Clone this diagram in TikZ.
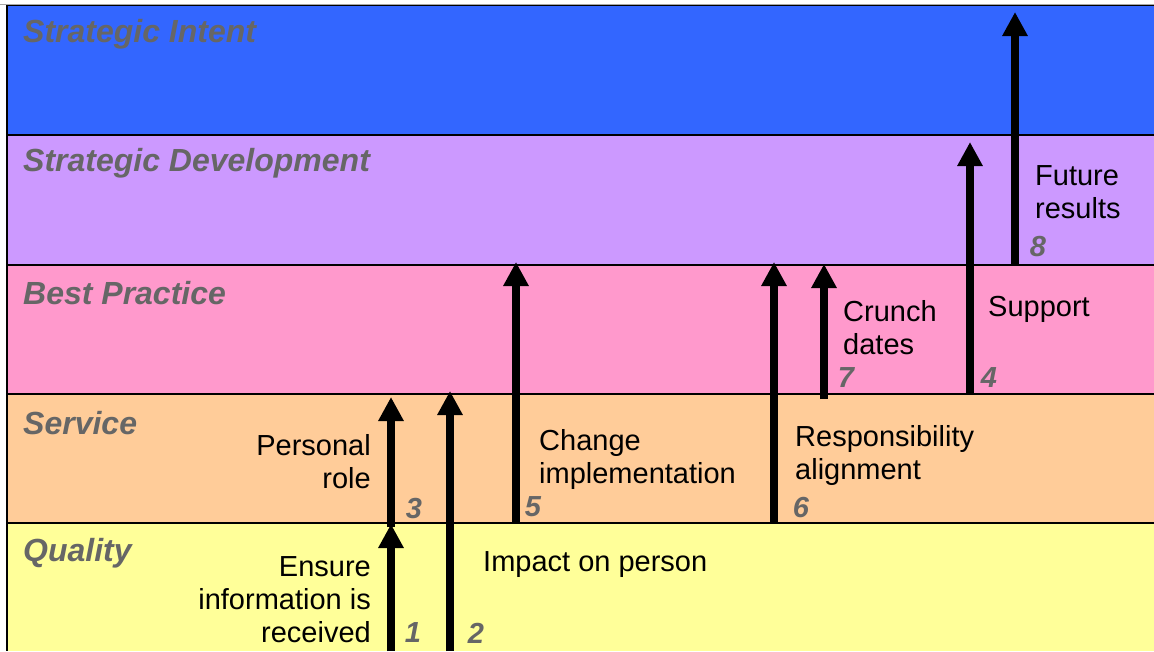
\documentclass[tikz,border=0pt]{standalone}
\usepackage{fontspec}
\setmainfont{Liberation Sans}
\usetikzlibrary{arrows.meta}
\definecolor{bandblue}{HTML}{3366FF}
\definecolor{bandpurple}{HTML}{CC99FF}
\definecolor{bandpink}{HTML}{FF99CC}
\definecolor{bandorange}{HTML}{FFCC99}
\definecolor{bandyellow}{HTML}{FFFF99}
\definecolor{titlegray}{HTML}{666666}
\tikzset{
  bandtitle/.style={anchor=west, inner sep=0pt, text=titlegray, font=\fontsize{32}{36}\selectfont\bfseries\itshape},
  lbl/.style={inner sep=0pt, font=\fontsize{29}{33}\selectfont},
  num/.style={inner sep=0pt, text=titlegray, font=\fontsize{29}{33}\selectfont\bfseries\itshape},
  uparrow/.style={line width=8pt, -{Triangle[width=24pt,length=24pt]}}
}
\begin{document}
\begin{tikzpicture}[x=1pt,y=-1pt]
\useasboundingbox (0,0) rectangle (1154,651);
\fill[white] (0,0) rectangle (1154,651);
% bands
\fill[bandblue] (7,5) rectangle (1154,135);
\fill[bandpurple] (7,135) rectangle (1154,265);
\fill[bandpink] (7,265) rectangle (1154,394);
\fill[bandorange] (7,394) rectangle (1154,523);
\fill[bandyellow] (7,523) rectangle (1154,651);
\draw[gray!70, line width=1pt] (0,4) -- (1154,4);
\foreach \y in {5.5,135,265,394,523} \draw[black, line width=1.5pt] (7,\y) -- (1154,\y);
\draw[black, line width=2pt] (7,5) -- (7,651);
% titles
\node[bandtitle] (tSI) at (23,34) {Strategic Intent};
\node[bandtitle] (tSD) at (23,163) {Strategic Development};
\node[bandtitle] (tBP) at (23,293) {Best Practice};
\node[bandtitle] (tSE) at (23,423) {Service};
\node[bandtitle] (tQU) at (23,553) {Quality};
% arrow endpoints
\coordinate (a1s) at (391,651); \coordinate (a1e) at (391,524);
\coordinate (a3s) at (391,527); \coordinate (a3e) at (391,397);
\coordinate (a2s) at (450,651); \coordinate (a2e) at (450,391);
\coordinate (a5s) at (516,523); \coordinate (a5e) at (516,262);
\coordinate (a6s) at (774,523); \coordinate (a6e) at (774,262);
\coordinate (a7s) at (824,399); \coordinate (a7e) at (824,264);
\coordinate (a4s) at (970,394); \coordinate (a4e) at (970,142);
\coordinate (a8s) at (1015,265); \coordinate (a8e) at (1015,12);
\foreach \a in {1,3,2,5,6,7,4,8} \draw[uparrow] (a\a s) -- (a\a e);
% labels
\node[lbl, anchor=east, align=right] (l1) at (371,600) {Ensure\\information is\\received};
\node[lbl, anchor=east, align=right] (l3) at (371,462) {Personal\\role};
\node[lbl, anchor=west] (l2) at (483,565) {Impact on person};
\node[lbl, anchor=west, align=left] (l5) at (539,459) {Change\\implementation};
\node[lbl, anchor=west, align=left] (l6) at (795,455) {Responsibility\\alignment};
\node[lbl, anchor=west, align=left] (l7) at (843,328) {Crunch\\dates};
\node[lbl, anchor=west] (l4) at (988,309) {Support};
\node[lbl, anchor=west, align=left] (l8) at (1035,192) {Future\\results};
% numbers
\node[num] (n1) at (413,633) {1};
\node[num] (n2) at (476,633) {2};
\node[num] (n3) at (414,509) {3};
\node[num] (n5) at (533,507) {5};
\node[num] (n6) at (801,508) {6};
\node[num] (n7) at (846,378) {7};
\node[num] (n4) at (989,378) {4};
\node[num] (n8) at (1038,247) {8};
\end{tikzpicture}
\end{document}
